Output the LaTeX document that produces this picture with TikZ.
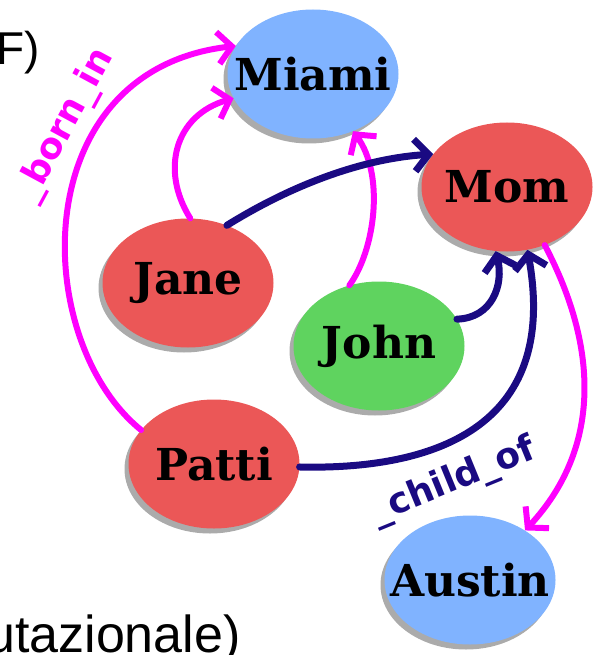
\documentclass[tikz,border=0pt]{standalone}
\usepackage{fontspec}
\setmainfont{Liberation Sans}
\newfontfamily\entityfont{DejaVu Serif}
\newfontfamily\relfont{DejaVu Sans}
\usetikzlibrary{arrows.meta, shapes.geometric, shadows}
\definecolor{kgred}{HTML}{EB5757}
\definecolor{kgblue}{HTML}{80B3FF}
\definecolor{kggreen}{HTML}{5FD35F}
\definecolor{kgpink}{HTML}{FF00FF}
\definecolor{kgnavy}{HTML}{1A0A82}
\definecolor{kggray}{HTML}{ABABAB}
\newcommand{\entityname}[1]{\makebox[0pt]{#1}}

\begin{document}
\begin{tikzpicture}[
    x=1pt, y=-1pt,
    entity/.style={
        ellipse,
        minimum width=171pt,
        minimum height=129pt,
        inner sep=0pt,
        font=\entityfont\bfseries\fontsize{44}{48}\selectfont,
        drop shadow={shadow xshift=-4pt, shadow yshift=-5pt, fill=kggray, opacity=1}
    },
    person/.style={entity, fill=kgred},
    place/.style={entity, fill=kgblue},
    child/.style={entity, fill=kggreen},
    bornin/.style={
        -{Straight Barb[length=14pt, width=32pt]},
        line width=6pt,
        line cap=round,
        kgpink
    },
    childof/.style={
        -{Straight Barb[length=14pt, width=32pt]},
        line width=7pt,
        line cap=round,
        kgnavy
    },
    relname/.style={
        sloped,
        font=\relfont\bfseries\fontsize{36}{40}\selectfont
    },
    slidetext/.style={anchor=base west, inner sep=0pt}
]
\useasboundingbox (0,0) rectangle (593,655);

% Slide text around the picture
\node[slidetext, font=\fontsize{46}{50}\selectfont] (slidetop) at (-4,65) {F)};
\node[slidetext, font=\fontsize{52}{56}\selectfont] (slidebottom) at (-14,652) {utazionale)};

% Entities
\node[place] (miami) at (313,74) {\entityname{Miami}};
\node[person] (mom) at (507,187) {\entityname{Mom}};
\node[person] (jane) at (188,283) {\entityname{Jane}};
\node[child] (john) at (379,346) {\entityname{John}};
\node[person] (patti) at (214,464) {\entityname{Patti}};
\node[place] (austin) at (470,580) {\entityname{Austin}};

% _born_in edges
\draw[bornin] (jane.88) .. controls (160,170) and (175,115) .. (miami.197);
\draw[bornin] (patti.155) .. controls (30,340) and (25,70) .. (miami.160)
    node[relname, pos=0.66, above=5pt] (bornlabel) {\_born\_in};
\draw[bornin] (john.116) .. controls (375,250) and (385,175) .. (miami.-55);
\draw[bornin] (mom.-57) .. controls (600,350) and (600,450) .. (austin.42);

% _child_of edges
\draw[childof] (jane.56) .. controls (300,180) and (370,158) .. (mom.156);
\draw[childof] (john.19) .. controls (492,318) and (504,285) .. (mom.-100);
\draw[childof] (patti.-2) .. controls (430,470) and (560,430) .. (mom.-72)
    node[relname, pos=0.38, below=13pt] (childlabel) {\_child\_of};

\end{tikzpicture}
\end{document}
